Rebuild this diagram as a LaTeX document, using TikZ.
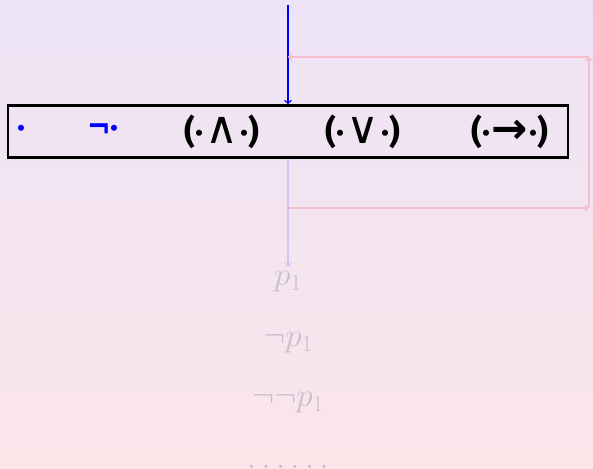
\documentclass[tikz,border=0pt]{standalone}
\usepackage{amsmath}
\usepackage{fontspec}
\newfontfamily\parenfont{Fira Sans}
\newfontfamily\symfont{DejaVu Sans}
\usetikzlibrary{positioning}
\definecolor{bgTop}{RGB}{236,228,246}
\definecolor{bgBot}{RGB}{251,229,233}
\definecolor{loopPink}{RGB}{246,190,204}
\definecolor{flowViolet}{RGB}{206,196,246}
\definecolor{fadeGray}{RGB}{200,190,206}
\newcommand{\bdot}{{\parenfont\bfseries ·}}
\newcommand{\binop}[2]{{\parenfont\bfseries(}\bdot\hspace{#2}#1\hspace{#2}\bdot{\parenfont\bfseries)}}
\begin{document}
\begin{tikzpicture}[
    x=0.75pt, y=-0.75pt,
    opsbox/.style={rectangle, draw, line width=1.9pt, minimum width=420pt, minimum height=39pt, inner sep=0pt},
    op/.style={font=\fontsize{25}{28}\selectfont},
    term/.style={text=fadeGray, font=\fontsize{23}{28}\selectfont},
    arrow/.style={->, line width=1.1pt}
]
    % Background
    \shade[top color=bgTop, bottom color=bgBot] (0,0) rectangle (593,468);
    \useasboundingbox (0,0) rectangle (593,468);

    % Connective box
    \node[opsbox] (ops) at (288,131.5) {};
    \node[op, text=blue] (var) at (21,131.5) {\bdot};
    \node[op, text=blue] (neg) at (103,131.5) {\scalebox{0.85}[1]{\symfont\bfseries ¬}\bdot};
    \node[op] (conj) at (222,131.5) {\binop{\scalebox{1.35}{\symfont ∧}}{1.5pt}};
    \node[op] (disj) at (363,131.5) {\binop{\scalebox{1.35}{\symfont ∨}}{1.5pt}};
    \node[op] (impl) at (510,131.5) {\binop{\scalebox{1.3}{\symfont\bfseries →}}{1pt}};

    % Generated formulas
    \node[term] (p1) at (288,282) {$p_1$};
    \node[term] (np1) at (288,343) {$\neg p_1$};
    \node[term] (nnp1) at (288,403) {$\neg\neg p_1$};
    \node[term, anchor=base] (more) at (288,468) {$\ldots\ldots$};

    % Loop corners
    \coordinate (start) at (288,5);
    \coordinate (loopIn) at (288,208);
    \coordinate (loopBR) at (589,208);
    \coordinate (loopTR) at (589,57);
    \coordinate (loopOut) at (288,57);

    % Arrows
    \draw[arrow, blue] (start) -- (ops.north);
    \draw[arrow, flowViolet] (ops.south) -- (p1.north);
    \draw[arrow, loopPink] (loopIn) -- (loopBR);
    \draw[arrow, loopPink] (loopBR) -- (loopTR);
    \draw[arrow, loopPink] (loopTR) -- (loopOut);
\end{tikzpicture}
\end{document}
